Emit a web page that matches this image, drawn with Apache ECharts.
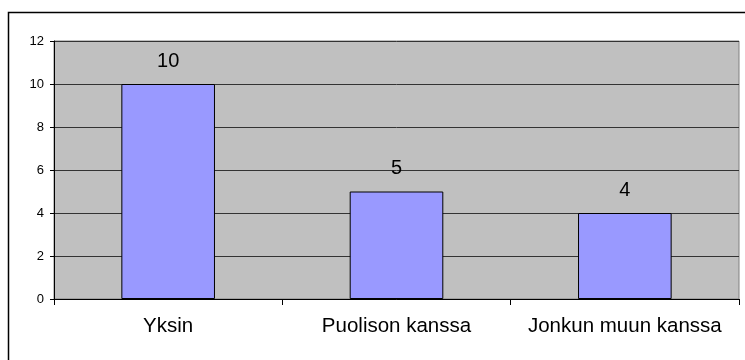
<!DOCTYPE html>
<html>
<head>
<meta charset="utf-8">
<script src="https://cdn.jsdelivr.net/npm/echarts@6/dist/echarts.min.js"></script>
<style>
  html, body { margin: 0; padding: 0; background: #ffffff; }
  #chart { width: 745px; height: 360px; }
</style>
</head>
<body>
<div id="chart"></div>
<script>
// Living arrangement counts
const categories = ['Yksin', 'Puolison kanssa', 'Jonkun muun kanssa'];
const counts = [10, 5, 4];
const yTicks = [0, 2, 4, 6, 8, 10, 12];

const chart = echarts.init(document.getElementById('chart'), null, { renderer: 'canvas' });

const font = 'Liberation Sans, Arial, sans-serif';

chart.setOption({
  animation: false,
  backgroundColor: '#ffffff',
  textStyle: { fontFamily: font },
  graphic: [{
    type: 'rect',
    shape: { x: 8.5, y: 12.5, width: 800, height: 400 },
    style: { fill: 'none', stroke: '#000000', lineWidth: 1.5 },
    silent: true
  }],
  grid: {
    left: 54, top: 41, right: 6, bottom: 61,
    show: true,
    backgroundColor: '#c0c0c0',
    borderColor: '#808080',
    borderWidth: 1
  },
  xAxis: {
    type: 'category',
    data: categories,
    boundaryGap: true,
    axisLine: { show: true, lineStyle: { color: '#000000', width: 1 } },
    axisTick: { show: true, interval: 0, alignWithLabel: false, length: 6, lineStyle: { color: '#000000' } },
    axisLabel: { interval: 0, hideOverlap: false, color: '#000000', fontSize: 20.5, fontFamily: font, margin: 17 },
    splitLine: { show: false }
  },
  yAxis: {
    type: 'value',
    min: yTicks[0],
    max: yTicks[yTicks.length - 1],
    interval: yTicks[1] - yTicks[0],
    axisLine: { show: true, lineStyle: { color: '#000000', width: 1 } },
    axisTick: { show: true, length: 4, lineStyle: { color: '#000000' } },
    axisLabel: { color: '#000000', fontSize: 13, fontFamily: font, margin: 10 },
    splitLine: { show: true, lineStyle: { color: '#333333', width: 1 } }
  },
  series: [{
    type: 'bar',
    data: counts,
    barWidth: '41%',
    itemStyle: { color: '#9999ff', borderColor: '#000000', borderWidth: 1 },
    label: {
      show: true,
      position: 'top',
      distance: 13,
      color: '#000000',
      fontSize: 20,
      fontFamily: font
    }
  }]
});
</script>
</body>
</html>
